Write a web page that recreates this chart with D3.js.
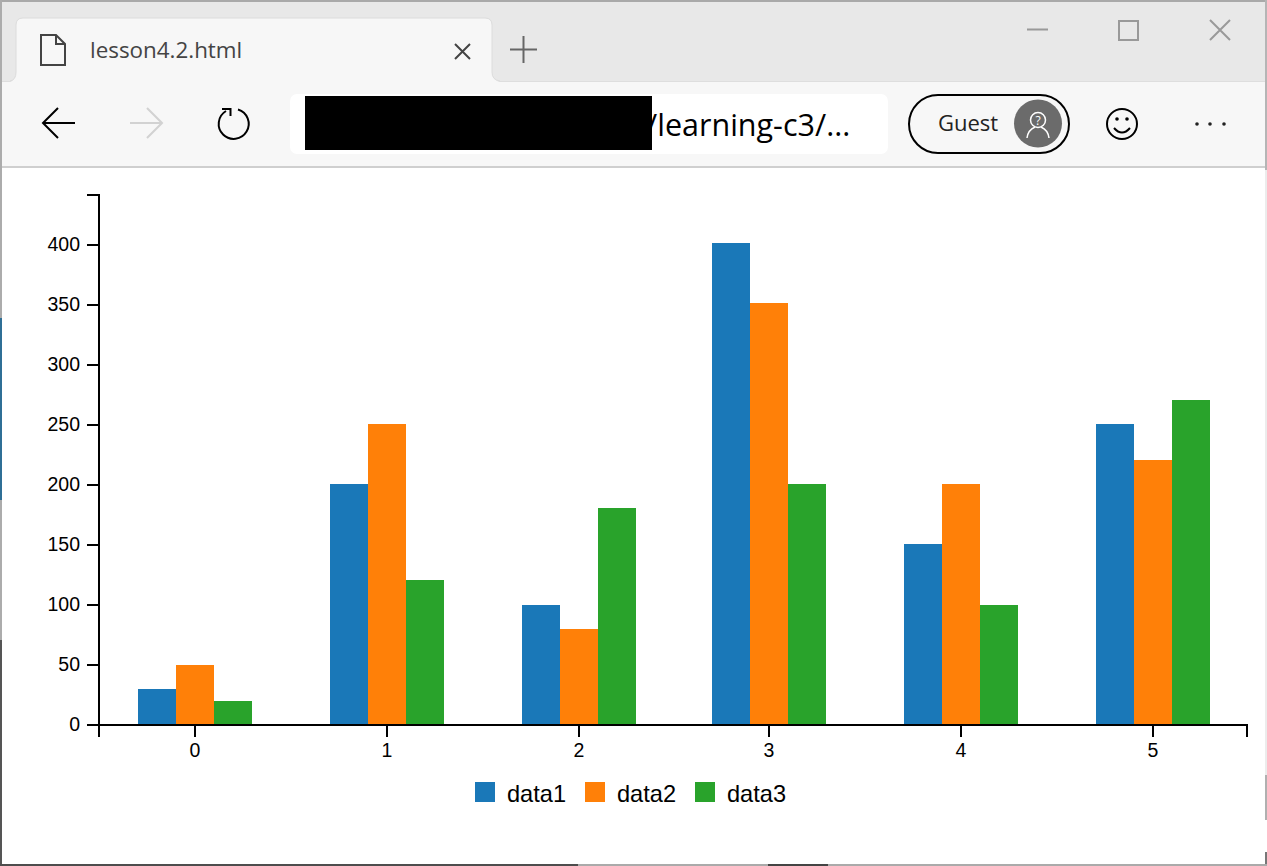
<!DOCTYPE html>
<html><head><meta charset="utf-8">
<script src="https://cdn.jsdelivr.net/npm/d3@7"></script>
<style>
html,body{margin:0;padding:0;background:#fff;overflow:hidden}
svg{display:block}
.tick text{font-family:"Liberation Sans",Arial,sans-serif;font-size:19.5px;fill:#000}
</style></head><body>
<svg id="c" width="1267" height="866"></svg>
<script>
const categories = [0, 1, 2, 3, 4, 5];
const data1 = [30, 200, 100, 400, 150, 250];
const data2 = [50, 250, 80, 350, 200, 220];
const data3 = [20, 120, 180, 200, 100, 270];
const seriesNames = ["data1", "data2", "data3"];
const seriesColors = ["#1a78b8", "#ff8008", "#29a32b"];
const yTicks = [0, 50, 100, 150, 200, 250, 300, 350, 400];
const tabTitle = "lesson4.2.html";
const addressText = "/learning-c3/...";
const guestText = "Guest";

const svg = d3.select("#c");
const chrome = svg.append("g");

// window frame and browser toolbar
chrome.append("rect").attr("x",0).attr("y",0).attr("width",1267).attr("height",82).attr("fill","#e8e8e8");
chrome.append("rect").attr("x",0).attr("y",81).attr("width",1267).attr("height",85).attr("fill","#f7f7f7");
chrome.append("rect").attr("x",0).attr("y",81).attr("width",1267).attr("height",1).attr("fill","#dedede");
chrome.append("rect").attr("x",0).attr("y",166).attr("width",1267).attr("height",2).attr("fill","#cfcfcf");
chrome.append("path").attr("fill","#f7f7f7").attr("stroke","none")
  .attr("d","M10,82 Q16,80 16,72 V25 Q16,18 23,18 H485 Q492,18 492,25 V72 Q492,80 500,82 Z");
chrome.append("path").attr("fill","none").attr("stroke","#dcdcdc")
  .attr("d","M10,81 Q16,80 16,72 V25 Q16,18 23,18 H485 Q492,18 492,25 V72 Q492,80 500,81");
chrome.append("rect").attr("x",290).attr("y",94).attr("width",598).attr("height",60).attr("rx",7).attr("fill","#fff");
const label = (x,y,t,size,fill,anchor) => chrome.append("text").attr("x",x).attr("y",y).text(t)
  .attr("font-family","'Open Sans','Noto Sans',sans-serif").attr("font-size",size).attr("fill",fill).attr("text-anchor",anchor||"start");
label(90,58,tabTitle,22.4,"#444");
label(646,136,addressText,30.5,"#000");
chrome.append("rect").attr("x",305).attr("y",96).attr("width",347).attr("height",54).attr("fill","#000");
label(938,131,guestText,22,"#222");
const stroke = (d,c,w) => chrome.append("path").attr("d",d).attr("fill","none").attr("stroke",c).attr("stroke-width",w||2);
stroke("M41,35 H56 L65,44 V65 H41 Z M56,35 V44 H65","#444");
stroke("M455,44 L470,59 M470,44 L455,59","#444");
stroke("M510,49.5 H537 M523.5,36 V63","#666");
stroke("M43,123 H75 M58,108 L43,123 L58,138","#000");
stroke("M130,123 H162 M147,108 L162,123 L147,138","#d2d2d2");
stroke("M238,109.5 A15,15 0 1 1 226,111 M222,109 H230.5 V116","#000");
stroke("M1027,29.5 H1048","#999");
chrome.append("rect").attr("x",1119).attr("y",21).attr("width",19).attr("height",19).attr("fill","none").attr("stroke","#999").attr("stroke-width",2);
stroke("M1210,20 L1230,40 M1230,20 L1210,40","#999");
chrome.append("rect").attr("x",909).attr("y",95).attr("width",160).attr("height",58).attr("rx",29).attr("fill","none").attr("stroke","#000").attr("stroke-width",2);
chrome.append("circle").attr("cx",1038).attr("cy",123.5).attr("r",24).attr("fill","#6b6b6b");
chrome.append("circle").attr("cx",1038).attr("cy",120).attr("r",7.5).attr("fill","none").attr("stroke","#fff").attr("stroke-width",1.5);
label(1038,124.5,"?",12,"#fff","middle");
stroke("M1027,138 Q1028,130 1035,127 M1049,138 Q1048,130 1041,127","#fff",1.5);
chrome.append("circle").attr("cx",1122).attr("cy",124).attr("r",15).attr("fill","none").attr("stroke","#000").attr("stroke-width",2);
chrome.append("circle").attr("cx",1117).attr("cy",119).attr("r",1.8).attr("fill","#000");
chrome.append("circle").attr("cx",1127).attr("cy",119).attr("r",1.8).attr("fill","#000");
stroke("M1114,128 Q1122,137 1130,128","#000");
[1197,1210,1224].forEach(x=>chrome.append("circle").attr("cx",x).attr("cy",124).attr("r",1.8).attr("fill","#222"));

// frame edges
chrome.append("rect").attr("x",0).attr("y",0).attr("width",1267).attr("height",2).attr("fill","#a9a9a9");
chrome.append("rect").attr("x",0).attr("y",0).attr("width",2).attr("height",866).attr("fill","#acacac");
chrome.append("rect").attr("x",0).attr("y",318).attr("width",2).attr("height",182).attr("fill","#2f6f96");
chrome.append("rect").attr("x",0).attr("y",640).attr("width",2).attr("height",226).attr("fill","#555");
chrome.append("rect").attr("x",1265).attr("y",0).attr("width",2).attr("height",170).attr("fill","#b5b5b5");
chrome.append("rect").attr("x",1265).attr("y",170).attr("width",2).attr("height",605).attr("fill","#ececec");
chrome.append("rect").attr("x",1265).attr("y",775).attr("width",2).attr("height",45).attr("fill","#b0b0b0");
chrome.append("rect").attr("x",1265).attr("y",852).attr("width",2).attr("height",14).attr("fill","#777");
chrome.append("rect").attr("x",0).attr("y",864).attr("width",578).attr("height",2).attr("fill","#4d4d4d");
chrome.append("rect").attr("x",578).attr("y",864).attr("width",689).attr("height",2).attr("fill","#aaaaaa");
chrome.append("rect").attr("x",768).attr("y",864).attr("width",60).attr("height",2).attr("fill","#444");

// chart: scales (category centres are not evenly rounded)
const x = d3.scaleLinear().domain([-96/191.6, 0, 2, 3, 5, 5+94/191.6]).range([99,195,579,769,1153,1247]);
const y = d3.scaleLinear().domain([0, 530/1.2]).range([725,195]);
const yBar = d3.scaleLinear().domain([0, 400]).range([725,243]);
const series = [data1, data2, data3];
const barW = 38;

const g = svg.append("g");
series.forEach((vals,i)=>{
  g.append("g").attr("fill",seriesColors[i]).selectAll("rect").data(vals).join("rect")
    .attr("x",(d,j)=>x(categories[j])+(i-1.5)*barW)
    .attr("y",d=>Math.round(yBar(d)))
    .attr("width",barW)
    .attr("height",d=>725-Math.round(yBar(d)));
});

const xAxis = d3.axisBottom(x).tickValues(categories).tickFormat(d3.format("d")).tickSizeInner(12).tickSizeOuter(12).tickPadding(6).offset(0);
const yAxis = d3.axisLeft(y).tickValues(yTicks).tickFormat(d3.format("d")).tickSizeInner(12).tickSizeOuter(12).tickPadding(7).offset(0);
const ax = svg.append("g").attr("transform","translate(0,725)").call(xAxis);
const ay = svg.append("g").attr("transform","translate(99,0)").call(yAxis);
[ax,ay].forEach(a=>{
  a.attr("font-family",null).attr("font-size",null);
  a.selectAll("path,line").attr("stroke","#000").attr("stroke-width",2);
});

// legend
const legendX = [475,585,695];
const legend = svg.append("g").selectAll("g").data(seriesNames).join("g")
  .attr("transform",(d,i)=>`translate(${legendX[i]},782)`);
legend.append("rect").attr("width",20).attr("height",20).attr("fill",(d,i)=>seriesColors[i]);
legend.append("text").attr("x",32).attr("y",20).text(d=>d)
  .attr("font-family","'Liberation Sans',Arial,sans-serif").attr("font-size",23.6).attr("fill","#000");
</script>
</body></html>
